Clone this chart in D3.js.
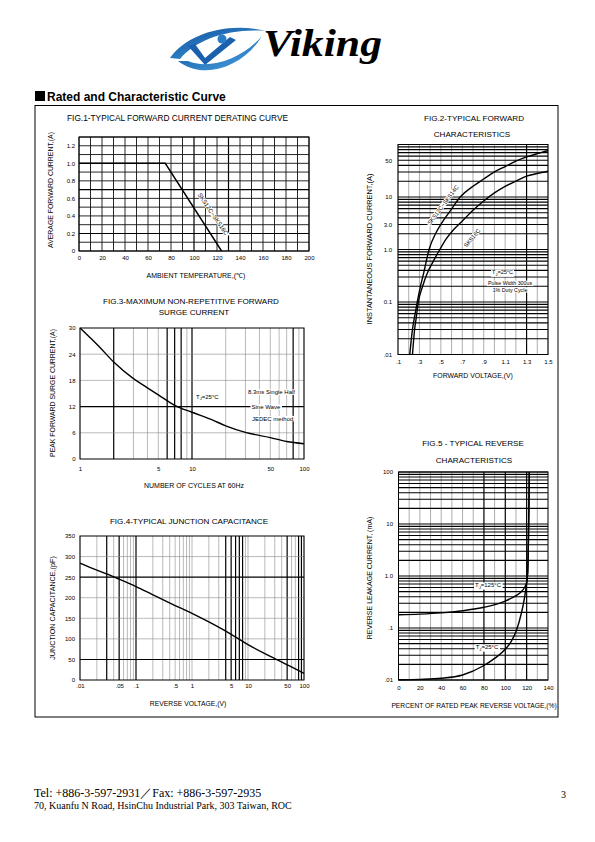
<!DOCTYPE html>
<html><head><meta charset="utf-8">
<script src="https://cdn.jsdelivr.net/npm/d3@7"></script>
<style>
html,body{margin:0;padding:0;background:#fff;}
svg{display:block;}
text{font-family:"Liberation Sans",Arial,Helvetica,sans-serif;fill:#000;}
</style></head><body>
<script>
// ---------------- DATA ----------------
// Fig.1 derating curve
const fig1Temperature = [0, 75, 124];
const fig1Current = [1.0, 1.0, 0.0];
const fig1XTicks = [0,20,40,60,80,100,120,140,160,180,200];
const fig1YTicks = [0,0.2,0.4,0.6,0.8,1.0,1.2];
const fig1YTickLabels = ["0","0.2","0.4","0.6","0.8","1.0","1.2"];

// Fig.2 forward characteristics
const fig2VoltageA = [0.21,0.235,0.26,0.28,0.31,0.34,0.39,0.45,0.5,0.6,0.68,0.8,0.9,1.0,1.1,1.2,1.3,1.4,1.5];
const fig2CurrentA = [0.01,0.03,0.06,0.1,0.2,0.36,1.0,2.0,3.0,5.9,10,16,22,30,38,48,58,67,76];
const fig2VoltageB = [0.235,0.255,0.27,0.29,0.33,0.38,0.43,0.49,0.55,0.62,0.7,0.8,0.9,1.0,1.1,1.2,1.3,1.4,1.5];
const fig2CurrentB = [0.01,0.03,0.05,0.1,0.2,0.38,0.6,1.0,1.6,2.4,3.5,5.6,8.4,12,16,20,25,28,31];
const fig2XTicks = [0.1,0.3,0.5,0.7,0.9,1.1,1.3,1.5];
const fig2XTickLabels = [".1",".3",".5",".7",".9","1.1","1.3","1.5"];
const fig2YTicks = [0.01,0.1,1,3,10,50];
const fig2YTickLabels = [".01","0.1","1.0","3.0","10","50"];

// Fig.3 surge current
const fig3Cycles = [1,1.5,2,3,4,5,7,10,15,20,30,50,70,100];
const fig3Surge = [30,25.6,22.2,18.4,16.3,14.7,12.3,10.7,9.0,7.6,6.1,4.9,4.0,3.5];
const fig3XTicks = [1,5,10,50,100];
const fig3YTicks = [0,6,12,18,24,30];

// Fig.4 junction capacitance
const fig4Voltage = [0.01,0.02,0.03,0.05,0.1,0.2,0.5,1,2,5,10,20,30,50,70,100];
const fig4Capacitance = [284,267,258,245,227,207,181,162,141,111,86,64,52,37,27,16];
const fig4XTicks = [0.01,0.05,0.1,0.5,1,5,10,50,100];
const fig4XTickLabels = [".01",".05",".1",".5","1","5","10","50","100"];
const fig4YTicks = [0,50,100,150,200,250,300,350];

// Fig.5 reverse characteristics
const fig5Percent125 = [0,20,40,60,80,100,110,115,118,120,121,121.6,122.1,122.5];
const fig5Current125 = [0.18,0.185,0.195,0.215,0.25,0.33,0.42,0.5,0.6,0.75,1.2,4,20,100];
const fig5Percent25 = [0,20,40,60,80,90,100,105,110,115,118,120,121,121.6,122.1,122.5];
const fig5Current25 = [0.0101,0.0103,0.0108,0.0125,0.019,0.026,0.039,0.053,0.085,0.19,0.38,0.75,1.2,4,20,100];
const fig5XTicks = [0,20,40,60,80,100,120,140];
const fig5YTicks = [0.01,0.1,1,10,100];
const fig5YTickLabels = [".01",".1","1.0","10","100"];

// ---------------- HELPERS ----------------
const svg = d3.select("body").append("svg").attr("width",595).attr("height",842);
const near = (a,b) => Math.abs(a-b) <= 1e-6*Math.max(1,Math.abs(b));
const inList = list => d => list.some(t => near(d,t));
const all = () => true;

function drawGrid(g, x, y, xGrid, yGrid, thickX, thickY, thinColor, thinW) {
  const [x0,x1] = x.range(), [y0,y1] = y.range();
  g.append("g").selectAll("line").data(xGrid).join("line")
    .attr("x1",d=>x(d)).attr("x2",d=>x(d)).attr("y1",y0).attr("y2",y1)
    .attr("stroke",d=>thickX(d)?"#000":thinColor).attr("stroke-width",d=>thickX(d)?1.2:thinW);
  g.append("g").selectAll("line").data(yGrid).join("line")
    .attr("y1",d=>y(d)).attr("y2",d=>y(d)).attr("x1",x0).attr("x2",x1)
    .attr("stroke",d=>thickY(d)?"#000":thinColor).attr("stroke-width",d=>thickY(d)?1.1:thinW);
  g.append("rect").attr("x",x0).attr("y",y1).attr("width",x1-x0).attr("height",y0-y1)
    .attr("fill","none").attr("stroke","#000").attr("stroke-width",1);
}
function axisB(g, x, vals, labels, baseline, size) {
  const ax = d3.axisBottom(x).tickValues(vals).tickSize(0).tickPadding(0)
    .tickFormat((d,i)=> labels ? labels[i] : String(d));
  const a = g.append("g").attr("transform",`translate(0,${baseline - 0.71*size})`).call(ax);
  a.attr("font-size",size).attr("font-family",null);
  a.select(".domain").remove();
}
function axisL(g, y, vals, labels, right, size) {
  const ax = d3.axisLeft(y).tickValues(vals).tickSize(0).tickPadding(0)
    .tickFormat((d,i)=> labels ? labels[i] : String(d));
  const a = g.append("g").attr("transform",`translate(${right},0)`).call(ax);
  a.attr("font-size",size).attr("font-family",null);
  a.select(".domain").remove();
}
function drawCurve(g, x, y, xs, ys, curve) {
  const pts = xs.map((v,i)=>[v,ys[i]]);
  g.append("path").attr("d", d3.line().x(d=>x(d[0])).y(d=>y(d[1])).curve(curve)(pts))
    .attr("fill","none").attr("stroke","#000").attr("stroke-width",1.4);
}
function txt(g, x, y, s, size, anchor="middle", weight=null) {
  return g.append("text").attr("x",x).attr("y",y).attr("font-size",size)
    .attr("text-anchor",anchor).attr("font-weight",weight).text(s);
}
function vtxt(g, cx, cy, s, size) {
  g.append("text").attr("transform",`translate(${cx},${cy}) rotate(-90)`)
    .attr("text-anchor","middle").attr("dy","0.35em").attr("font-size",size).text(s);
}
// label with optional subscript parts and white background
function label(g, cx, cy, parts, size, rotate=0, anchor="middle", bg=true) {
  const grp = g.append("g").attr("transform",`translate(${cx},${cy}) rotate(${rotate})`);
  const t = grp.append("text").attr("font-size",size).attr("text-anchor",anchor).attr("y",size*0.35);
  let lastSub = false;
  parts.forEach(p => {
    const isSub = typeof p === "object";
    const ts = t.append("tspan").text(isSub ? p.sub : p);
    if (isSub) ts.attr("font-size",size*0.7).attr("dy",size*0.3);
    else if (lastSub) ts.attr("dy",-size*0.3);
    lastSub = isSub;
  });
  if (bg) {
    const b = t.node().getBBox();
    grp.insert("rect","text").attr("x",b.x-1).attr("y",b.y+0.3).attr("width",b.width+2)
      .attr("height",b.height-0.6).attr("fill","#fff");
  }
}

// ---------------- PAGE ----------------
const defs = svg.append("defs");
const g1 = defs.append("linearGradient").attr("id","blueA").attr("x1","0").attr("y1","0").attr("x2","1").attr("y2","1");
g1.append("stop").attr("offset","0").attr("stop-color","#0d4f9e");
g1.append("stop").attr("offset","1").attr("stop-color","#4aa5e2");
const g2 = defs.append("linearGradient").attr("id","blueB").attr("x1","0").attr("y1","0").attr("x2","0").attr("y2","1");
g2.append("stop").attr("offset","0").attr("stop-color","#1a63b0");
g2.append("stop").attr("offset","1").attr("stop-color","#46a2e0");

// Logo
const logo = svg.append("g");
logo.append("path").attr("d","M170,58 C186,35 226,21 266,31 C228,28 196,40 180,59 Z").attr("fill","url(#blueA)");
logo.append("path").attr("d","M178,61 C202,80 242,69 262,36 C242,59 209,70 188,61 Z").attr("fill","url(#blueA)");
logo.append("path").attr("d","M188,46 L205,65 L236,40 L230,37 L205,58 L195,44 Z").attr("fill","#1a60ad");
logo.append("circle").attr("cx",222).attr("cy",39).attr("r",4.5).attr("fill","#2a7cc6");
logo.append("text").attr("x",263).attr("y",56)
  .attr("font-weight","bold").attr("font-style","italic").attr("font-size",38)
  .attr("textLength",119).attr("lengthAdjust","spacingAndGlyphs")
  .attr("fill","url(#blueB)").style("font-family","'Liberation Serif',serif").text("Viking");

// Header
svg.append("rect").attr("x",35).attr("y",91).attr("width",10).attr("height",10).attr("fill","#000");
txt(svg, 47, 101, "Rated and Characteristic Curve", 12, "start", "bold");
// Frame
svg.append("rect").attr("x",35).attr("y",105.5).attr("width",523).attr("height",611.5)
  .attr("fill","none").attr("stroke","#000").attr("stroke-width",1);

// ---------- FIG 1 ----------
{
  const g = svg.append("g");
  const x = d3.scaleLinear().domain([0,200]).range([79,309]);
  const y = d3.scaleLinear().domain([0,1.3]).range([251,137]);
  drawGrid(g, x, y, d3.range(0,201,10), d3.range(0,14).map(i=>i/10),
    inList([100,130]), inList([0.2,0.7]), "#111", 0.9);
  drawCurve(g, x, y, fig1Temperature, fig1Current, d3.curveLinear);
  label(g, 213, 214, ["SKS12C~SKS16C"], 6, 56);
  axisB(g, x, fig1XTicks, null, 260, 6);
  axisL(g, y, fig1YTicks, fig1YTickLabels, 75, 6);
  txt(g, 177.5, 121, "FIG.1-TYPICAL FORWARD CURRENT DERATING CURVE", 8.3);
  vtxt(g, 51, 190, "AVERAGE FORWARD CURRENT,(A)", 6.9);
  txt(g, 196, 277.5, "AMBIENT TEMPERATURE,(\u2103)", 7);
}

// ---------- FIG 2 ----------
{
  const g = svg.append("g");
  const x = d3.scaleLinear().domain([0.1,1.5]).range([398,548]);
  const y = d3.scaleLog().domain([0.01,100]).range([354.5,144.5]);
  drawGrid(g, x, y, d3.range(1,16).map(i=>i/10), y.ticks(), inList([1.3]), all, "#777", 0.6);
  drawCurve(g, x, y, fig2VoltageA, fig2CurrentA, d3.curveMonotoneX);
  drawCurve(g, x, y, fig2VoltageB, fig2CurrentB, d3.curveMonotoneX);
  label(g, 443, 205, ["SKS12C~SKS14C"], 5.8, -53);
  label(g, 472, 238, ["SKS16C"], 5.8, -50);
  label(g, 492, 272.5, ["T",{sub:"J"},"=25\u00B0C"], 5.6, 0, "start");
  label(g, 510, 283.5, ["Pulse Width 300us"], 5.3);
  label(g, 510, 290, ["1% Duty Cycle"], 5.3);
  axisB(g, x, fig2XTicks, fig2XTickLabels, 364, 6);
  axisL(g, y, fig2YTicks, fig2YTickLabels, 392, 6);
  txt(g, 474, 120.5, "FIG.2-TYPICAL FORWARD", 8.1);
  txt(g, 472, 137, "CHARACTERISTICS", 8.1);
  vtxt(g, 369, 249, "INSTANTANEOUS FORWARD CURRENT,(A)", 7.4);
  txt(g, 473, 378, "FORWARD VOLTAGE,(V)", 6.9);
}

// ---------- FIG 3 ----------
{
  const g = svg.append("g");
  const x = d3.scaleLog().domain([1,100]).range([80,304]);
  const y = d3.scaleLinear().domain([0,30]).range([459,328]);
  drawGrid(g, x, y, x.ticks(), [6,12,18,24], inList([2,6,7,8,10,80]), inList([12]), "#8c8c8c", 0.6);
  drawCurve(g, x, y, fig3Cycles, fig3Surge, d3.curveMonotoneX);
  label(g, 196, 396.5, ["T",{sub:"J"},"=25\u00B0C"], 6, 0, "start");
  label(g, 248, 392, ["8.3ms Single Half"], 6, 0, "start");
  label(g, 251.5, 407, ["Sine Wave"], 6, 0, "start");
  label(g, 252, 418.5, ["JEDEC method"], 6, 0, "start");
  axisB(g, x, fig3XTicks, null, 471, 6);
  axisL(g, y, fig3YTicks, null, 75.5, 6);
  txt(g, 191, 304, "FIG.3-MAXIMUM NON-REPETITIVE FORWARD", 8.1);
  txt(g, 194, 314.5, "SURGE CURRENT", 8.1);
  vtxt(g, 53, 393, "PEAK FORWARD SURGE CURRENT,(A)", 6.9);
  txt(g, 194, 488, "NUMBER OF CYCLES AT 60Hz", 7);
}

// ---------- FIG 4 ----------
{
  const g = svg.append("g");
  const x = d3.scaleLog().domain([0.01,100]).range([80,304]);
  const y = d3.scaleLinear().domain([0,350]).range([680,536]);
  drawGrid(g, x, y, x.ticks(), [50,100,150,200,250,300],
    inList([0.03,0.05,0.1,4,5,6,7,8,50,80,90]), inList([50,250]), "#8c8c8c", 0.6);
  drawCurve(g, x, y, fig4Voltage, fig4Capacitance, d3.curveMonotoneX);
  axisB(g, x, fig4XTicks, fig4XTickLabels, 688, 6);
  axisL(g, y, fig4YTicks, null, 75, 6);
  txt(g, 189, 524, "FIG.4-TYPICAL JUNCTION CAPACITANCE", 8.1);
  vtxt(g, 52, 608, "JUNCTION CAPACITANCE,(pF)", 7.2);
  txt(g, 188, 706, "REVERSE VOLTAGE,(V)", 6.8);
}

// ---------- FIG 5 ----------
{
  const g = svg.append("g");
  const x = d3.scaleLinear().domain([0,140]).range([398.5,548]);
  const y = d3.scaleLog().domain([0.01,100]).range([680,472]);
  drawGrid(g, x, y, d3.range(10,140,10), y.ticks(), inList([80,100,120]), all, "#777", 0.6);
  drawCurve(g, x, y, fig5Percent125, fig5Current125, d3.curveMonotoneX);
  drawCurve(g, x, y, fig5Percent25, fig5Current25, d3.curveMonotoneX);
  label(g, 488, 585, ["T",{sub:"J"},"=125\u00B0C"], 6);
  label(g, 487, 647, ["T",{sub:"J"},"=25\u00B0C"], 6);
  axisB(g, x, fig5XTicks, null, 690, 6);
  axisL(g, y, fig5YTicks, fig5YTickLabels, 393, 6);
  txt(g, 473, 446, "FIG.5 - TYPICAL REVERSE", 8.1);
  txt(g, 474, 463, "CHARACTERISTICS", 8.1);
  vtxt(g, 370, 578, "REVERSE LEAKAGE CURRENT, (mA)", 7);
  txt(g, 474, 707.5, "PERCENT OF RATED PEAK REVERSE VOLTAGE,(%)", 6.7);
}

// Footer
svg.append("text").attr("x",34).attr("y",797).attr("font-size",12).style("font-family","'Liberation Serif',serif")
  .text("Tel: +886-3-597-2931\uFF0FFax: +886-3-597-2935");
svg.append("text").attr("x",34).attr("y",809).attr("font-size",10).style("font-family","'Liberation Serif',serif")
  .text("70, Kuanfu N Road, HsinChu Industrial Park, 303 Taiwan, ROC");
svg.append("text").attr("x",561).attr("y",798).attr("font-size",10).style("font-family","'Liberation Serif',serif")
  .text("3");
</script>
</body></html>
